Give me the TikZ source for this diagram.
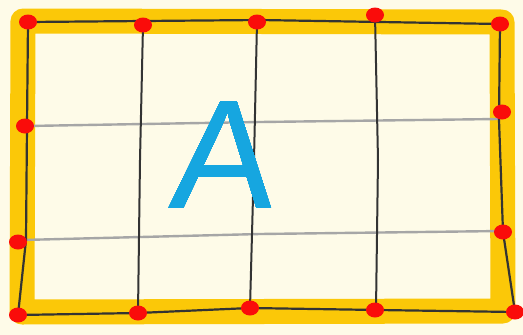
\documentclass[tikz,border=0pt]{standalone}
\usepackage{fontspec}
\newfontfamily\letterfont{Liberation Sans}
\definecolor{paper}{RGB}{254,251,232}
\definecolor{band}{RGB}{251,200,8}
\definecolor{dotred}{RGB}{250,12,10}
\definecolor{inkblue}{RGB}{22,166,224}
\newcommand{\reddot}[2]{%
  \fill[dotred] (#1,#2) ellipse (9 and 7.5);%
}

\begin{document}
\begin{tikzpicture}[x=1pt,y=-1pt,
    frame/.style={line width=2.2pt,black!80,line join=round},
    vline/.style={line width=2pt,black!80,line join=round},
    hline/.style={line width=2.4pt,gray!70,line join=round}]
  \fill[paper] (0,0) rectangle (523,335);
  \useasboundingbox (0,0) rectangle (523,335);
  % yellow border
  \draw[band,line width=25pt,line join=round] (23,21) -- (502,22) -- (503,311) -- (22,312) -- cycle;
  % grid
  \draw[hline] (27,126) -- (260,122) -- (498,119);
  \draw[hline] (22,240) -- (260,234) -- (502,231);
  \draw[vline] (143,25) -- (140,160) -- (138,313);
  \draw[vline] (257,22) -- (254,160) -- (250,308);
  \draw[vline] (375,15) -- (378,160) -- (376,310);
  \draw[frame] (28,22) -- (260,20) -- (500,24) -- (499,120) -- (503,232) -- (515,312)
    -- (378,310) -- (250,308) -- (138,313) -- (18,315) -- (26,240) -- (27,126) -- cycle;
  % dots
  \foreach \px/\py in {28/22,143/25,257/22,375/15,500/24,
      25/126,502/112,18/242,503/232,
      18/315,138/313,250/308,375/310,515/312}
    \reddot{\px}{\py}
  % letter
  \node[text=inkblue,font=\letterfont\fontsize{155}{155}\selectfont,xslant=0.08] (letterA) at (224,155) {A};
\end{tikzpicture}
\end{document}
